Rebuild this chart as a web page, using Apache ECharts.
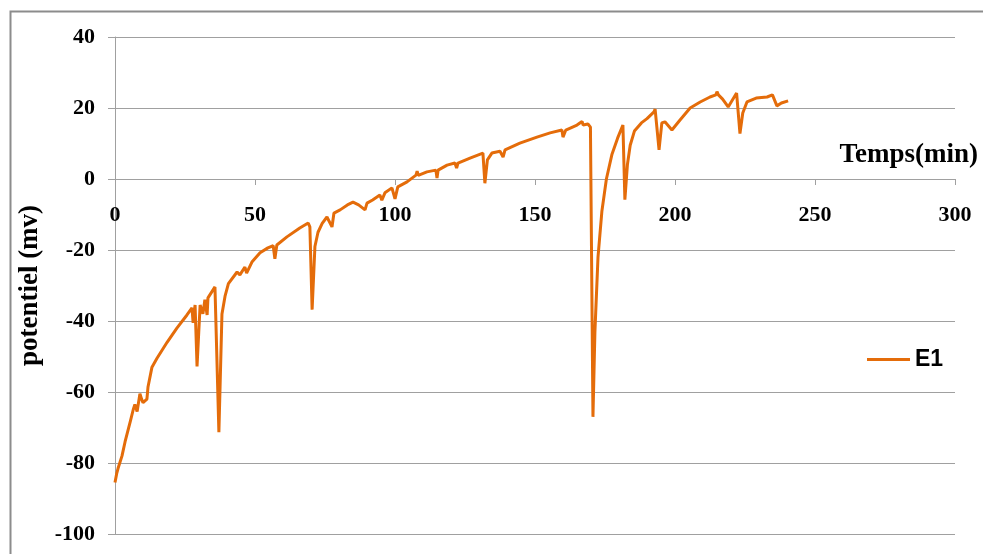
<!DOCTYPE html>
<html>
<head>
<meta charset="utf-8">
<script src="https://cdn.jsdelivr.net/npm/echarts@6/dist/echarts.min.js"></script>
<style>
  html, body { margin: 0; padding: 0; background: #fff; }
  #chart { width: 983px; height: 554px; }
</style>
</head>
<body>
<div id="chart"></div>
<script>
const TEMPS = [
  0, 0.6, 1.1, 1.8, 2.5, 3.6, 5.4, 6.5, 7.1, 7.9, 8.9, 9.5, 10, 11.4, 11.8, 13.2, 15, 18.6, 22.1, 25.7,
  27.5, 27.9, 28.6, 29.3, 30.4, 31.4, 32.1, 32.9, 33.2, 35.7, 36.4, 37.1, 38.2, 39.3, 40.5, 43.6, 44.6, 46.4, 47, 48.9,
  51.8, 54.6, 56.5, 57.1, 57.8, 61.4, 66, 69, 69.6, 70.4, 71.4, 72.5, 74, 75.7, 77.5, 78.2, 80.4, 83, 85, 87,
  89.3, 90, 92, 94.6, 95.3, 96.4, 98.9, 100, 101, 104.3, 107.5, 107.9, 108.3, 111.4, 114.6, 115, 115.4, 118.6, 121.4, 122,
  122.5, 126.8, 131.4, 132.1, 133, 134.6, 137.5, 138.6, 139.3, 144.6, 150.7, 155.4, 159.6, 160, 161, 165, 166.8, 167.2, 168.9, 169.8,
  170.7, 171.4, 172.5, 173.9, 175.5, 177.5, 179.5, 181.4, 182.1, 183, 184, 185.5, 188, 190, 192.5, 192.9, 194.3, 195.3, 196.4, 198.9,
  201.8, 205.4, 209, 212.5, 214.6, 215, 215.5, 217, 219, 222, 223.2, 224.2, 225.7, 229, 232.9, 234.8, 236.4, 238, 240.4
];
const POTENTIEL = [
  -85.5, -83, -81.5, -81.5, -78, -74, -68.5, -65, -63.5, -65.5, -60.5, -62, -63, -62, -58.5, -53, -50.5, -46, -42, -38.3,
  -36.3, -40.5, -35.5, -52.8, -35.5, -38, -34, -38.3, -33.5, -30.4, -29.9, -71.3, -38, -33, -29.5, -26.2, -27, -24.8, -26.5, -23.4,
  -20.8, -19.4, -18.8, -22.5, -18.6, -16.3, -13.8, -12.4, -13.5, -36.8, -19, -15, -12.5, -10.7, -13.5, -9.6, -8.7, -7.3, -6.5, -7.3,
  -8.7, -6.8, -5.9, -4.5, -6, -3.9, -2.5, -5.6, -2.2, -0.8, 1.1, 2.2, 1.0, 2, 2.5, 0.3, 2.5, 3.9, 4.5, 3.1,
  4.5, 5.9, 7.3, -1.2, 5.4, 7.3, 7.8, 6.2, 8.2, 10.1, 11.8, 13, 13.8, 11.8, 13.8, 15.2, 16.2, 15.2, 15.5, 14.6,
  -67, -43, -22, -9, 0, 7, 11.5, 15.2, -5.8, 4, 9.5, 13.5, 15.8, 17, 18.9, 19.7, 8.2, 15.8, 16.1, 13.8,
  16.6, 20, 21.7, 23.1, 23.7, 24.6, 23.7, 22.5, 20.3, 24.2, 12.8, 18.6, 21.7, 22.8, 23.1, 23.7, 20.6, 21.4, 22
];
const X_MIN = 0, X_MAX = 300, X_STEP = 50;
const Y_MIN = -100, Y_MAX = 40, Y_STEP = 20;

const GRIS = '#a0a0a0';
const ORANGE = '#E46C0A';
const SERIF = 'Liberation Serif';

// grille : haut 37, bas 534 -> l'axe des x (y = 0) tombe à 37 + 40/140 * 497
const GRID_TOP = 37, GRID_BOTTOM = 20, H = 554;
const zeroOffset = -((H - GRID_BOTTOM - GRID_TOP) * (Y_MAX - 0) / (Y_MAX - Y_MIN));

const labelStyle = { fontFamily: SERIF, fontWeight: 'bold', fontSize: 22, color: '#000' };

const chart = echarts.init(document.getElementById('chart'));
chart.setOption({
  animation: false,
  backgroundColor: '#fff',
  graphic: [{
    type: 'rect', silent: true,
    shape: { x: 10.5, y: 11.5, width: 1100, height: 700 },
    style: { fill: null, stroke: '#8c8c8c', lineWidth: 2 }
  }],
  grid: { left: 115, right: 28, top: GRID_TOP, bottom: GRID_BOTTOM, outerBoundsMode: 'none', containLabel: false },
  legend: {
    left: 862, top: 343,
    icon: 'rect', itemWidth: 43, itemHeight: 3, itemGap: 6,
    textStyle: { fontFamily: 'Liberation Sans', fontWeight: 'bold', fontSize: 23, color: '#000' },
    data: ['E1']
  },
  xAxis: [{
    type: 'value', min: X_MIN, max: X_MAX, interval: X_STEP,
    name: 'Temps(min)', nameLocation: 'end', nameGap: 23,
    nameTextStyle: {
      fontFamily: SERIF, fontWeight: 'bold', fontSize: 27, color: '#000',
      align: 'right', verticalAlign: 'bottom', padding: [0, 0, 10, 0]
    },
    axisLine: { onZero: true, lineStyle: { color: GRIS, width: 1 } },
    axisTick: { show: true, length: 6, lineStyle: { color: GRIS } },
    axisLabel: { show: false },
    splitLine: { show: false }
  }, {
    // étiquettes sous la ligne du zéro
    type: 'value', min: X_MIN, max: X_MAX, interval: X_STEP,
    position: 'top', offset: zeroOffset,
    axisLine: { show: false }, axisTick: { show: false }, splitLine: { show: false },
    axisLabel: Object.assign({ inside: true, margin: 25 }, labelStyle)
  }],
  yAxis: {
    type: 'value', min: Y_MIN, max: Y_MAX, interval: Y_STEP,
    name: 'potentiel (mv)', nameLocation: 'middle', nameGap: 66, nameRotate: 90,
    nameTextStyle: { fontFamily: SERIF, fontWeight: 'bold', fontSize: 27, color: '#000' },
    axisLine: { show: true, lineStyle: { color: GRIS, width: 1 } },
    axisTick: { show: true, length: 7, lineStyle: { color: GRIS } },
    axisLabel: Object.assign({ margin: 20 }, labelStyle),
    splitLine: { show: true, lineStyle: { color: GRIS, width: 1 } }
  },
  series: [{
    name: 'E1', type: 'line', xAxisIndex: 0,
    data: TEMPS.map((t, i) => [t, POTENTIEL[i]]),
    symbol: 'none', smooth: false,
    lineStyle: { color: ORANGE, width: 3 },
    itemStyle: { color: ORANGE }
  }]
});
</script>
</body>
</html>
